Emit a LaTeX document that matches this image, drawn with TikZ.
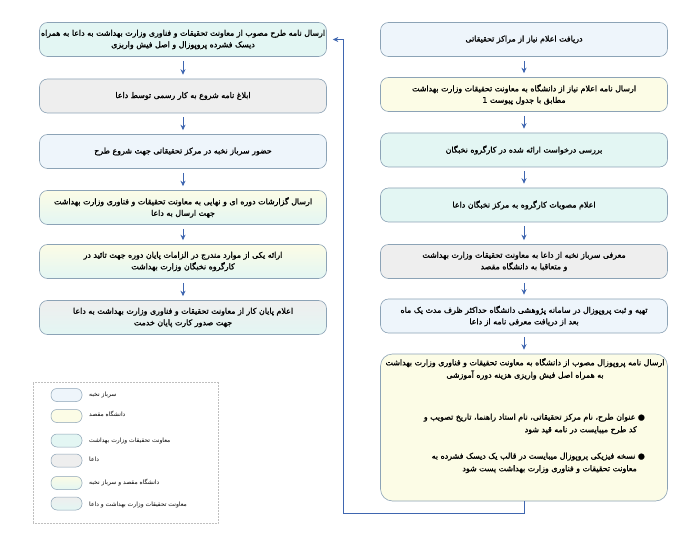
\documentclass[tikz,border=0pt]{standalone}
\usepackage{fontspec}
\usetikzlibrary{arrows.meta}
\TeXXeTstate=1
\newfontfamily\arabicfont[Script=Arabic,FakeBold=1.3]{DejaVu Sans}
\newfontfamily\arabiclight[Script=Arabic]{DejaVu Sans}
\newcommand{\rl}[1]{{\arabicfont\beginR #1\endR}}
\newcommand{\rn}[1]{{\arabiclight\beginR #1\endR}}
\definecolor{sarbaz}{HTML}{EEF5FB}
\definecolor{maqsad}{HTML}{FCFCE6}
\definecolor{moavenat}{HTML}{E3F6F3}
\definecolor{daea}{HTML}{EEEEEE}
\definecolor{edge}{HTML}{8CA3B6}
\definecolor{arrowblue}{HTML}{3F66B0}
\tikzset{
  box/.style={draw=edge, line width=0.6pt, rounded corners=8pt, minimum width=287pt, minimum height=34pt, align=center, font=\fontsize{7.9}{11.5}\selectfont, inner xsep=0pt, inner ysep=1pt},
  bigbox/.style={draw=edge, line width=0.6pt, rounded corners=12pt, minimum width=287pt, minimum height=147pt},
  flow/.style={draw=arrowblue, line width=0.8pt, -{Stealth[length=5.5pt,width=5pt]}, shorten <=4pt, shorten >=4pt},
  legshape/.style={draw=edge, line width=0.5pt, rounded corners=6pt, minimum width=31pt, minimum height=13pt, inner sep=0pt},
  leglabel/.style={anchor=west, font=\fontsize{6}{8}\selectfont, inner sep=0pt},
  btxt/.style={align=right, font=\fontsize{7.9}{12.5}\selectfont, inner sep=0pt}
}
\begin{document}
\begin{tikzpicture}[x=1pt,y=-1pt]
\useasboundingbox[fill=white] (0,0) rectangle (696,545);

% right column
\node[box, fill=sarbaz] (r1) at (524,39.5) {\rl{دریافت اعلام نیاز از مراکز تحقیقاتی}};
\node[box, fill=maqsad] (r2) at (524,94.5) {\rl{ارسال نامه اعلام نیاز از دانشگاه به معاونت تحقیقات وزارت بهداشت}\\\rl{مطابق با جدول پیوست 1}};
\node[box, fill=moavenat] (r3) at (524,150) {\rl{بررسی درخواست ارائه شده در کارگروه نخبگان}};
\node[box, fill=moavenat] (r4) at (524,205) {\rl{اعلام مصوبات کارگروه به مرکز نخبگان داعا}};
\node[box, fill=daea] (r5) at (524,261.5) {\rl{معرفی سرباز نخبه از داعا به معاونت تحقیقات وزارت بهداشت}\\\rl{و متعاقبا به دانشگاه مقصد}};
\node[box, fill=sarbaz] (r6) at (524,316) {\rl{تهیه و ثبت پروپوزال در سامانه پژوهشی دانشگاه حداکثر ظرف مدت یک ماه}\\\rl{بعد از دریافت معرفی نامه از داعا}};
\node[bigbox, fill=maqsad] (r7) at (524,427.5) {};
\node[btxt, align=center, anchor=north] (r7t) at (525,358) {\rl{ارسال نامه پروپوزال مصوب از دانشگاه به معاونت تحقیقات و فناوری وزارت بهداشت}\\\rl{به همراه اصل فیش واریزی هزینه دوره آموزشی}};
\node[btxt, anchor=north east] (r7a) at (645,413.5) {\rl{● عنوان طرح، نام مرکز تحقیقاتی، نام استاد راهنما، تاریخ تصویب و}\\\rl{کد طرح میبایست در نامه قید شود}\hspace*{8pt}};
\node[btxt, anchor=north east] (r7b) at (645,452.5) {\rl{● نسخه فیزیکی پروپوزال میبایست در قالب یک دیسک فشرده به}\\\rl{معاونت تحقیقات و فناوری وزارت بهداشت پست شود}\hspace*{8pt}};

% left column
\node[box, fill=moavenat] (l1) at (183,39.5) {\rl{ارسال نامه طرح مصوب از معاونت تحقیقات و فناوری وزارت بهداشت به داعا به همراه}\\\rl{دیسک فشرده پروپوزال و اصل فیش واریزی}};
\node[box, fill=daea] (l2) at (183,96) {\rl{ابلاغ نامه شروع به کار رسمی توسط داعا}};
\node[box, fill=sarbaz] (l3) at (183,151.5) {\rl{حضور سرباز نخبه در مرکز تحقیقاتی جهت شروع طرح}};
\node[box, top color=maqsad, bottom color=moavenat, draw=edge] (l4) at (183,207.5) {\rl{ارسال گزارشات دوره ای و نهایی به معاونت تحقیقات و فناوری وزارت بهداشت}\\\rl{جهت ارسال به داعا}};
\node[box, top color=maqsad, bottom color=moavenat, draw=edge] (l5) at (183,261.5) {\rl{ارائه یکی از موارد مندرج در الزامات پایان دوره جهت تائید در}\\\rl{کارگروه نخبگان وزارت بهداشت}};
\node[box, top color=daea, bottom color=moavenat, draw=edge] (l6) at (183,317.5) {\rl{اعلام پایان کار از معاونت تحقیقات و فناوری وزارت بهداشت به داعا}\\\rl{جهت صدور کارت پایان خدمت}};

% arrows
\draw[flow] (r1) -- (r2);
\draw[flow] (r2) -- (r3);
\draw[flow] (r3) -- (r4);
\draw[flow] (r4) -- (r5);
\draw[flow] (r5) -- (r6);
\draw[flow] (r6) -- (r7);
\draw[flow] (l1) -- (l2);
\draw[flow] (l2) -- (l3);
\draw[flow] (l3) -- (l4);
\draw[flow] (l4) -- (l5);
\draw[flow] (l5) -- (l6);
\coordinate (c1) at (r7.south |- 0,513);
\coordinate (c2) at (343,513);
\coordinate (c3) at (343,39.5);
\draw[draw=arrowblue, line width=0.8pt, -{Stealth[length=5.5pt,width=5pt]}, shorten >=6pt] (r7.south) -- (c1) -- (c2) -- (c3) -- (l1.east);

% legend
\node[draw=black!25, densely dotted, line width=0.5pt, minimum width=185pt, minimum height=141pt, inner sep=0pt] (leg) at (125.5,452.5) {};
\node[legshape, fill=sarbaz] (k1) at (66.5,395) {};
\node[legshape, fill=maqsad] (k2) at (66.5,416) {};
\node[legshape, fill=moavenat] (k3) at (66.5,440.5) {};
\node[legshape, fill=daea] (k4) at (66.5,460.5) {};
\node[legshape, top color=maqsad, bottom color=moavenat, draw=edge] (k5) at (66.5,483) {};
\node[legshape, top color=daea, bottom color=moavenat, draw=edge] (k6) at (66.5,503.5) {};
\node[leglabel] (t1) at (89,395) {\rn{سرباز نخبه}};
\node[leglabel] (t2) at (89,414) {\rn{دانشگاه مقصد}};
\node[leglabel] (t3) at (89,440.5) {\rn{معاونت تحقیقات وزارت بهداشت}};
\node[leglabel] (t4) at (89,459) {\rn{داعا}};
\node[leglabel] (t5) at (89,483) {\rn{دانشگاه مقصد و سرباز نخبه}};
\node[leglabel] (t6) at (89,505) {\rn{معاونت تحقیقات وزارت بهداشت و داعا}};
\end{tikzpicture}
\end{document}
